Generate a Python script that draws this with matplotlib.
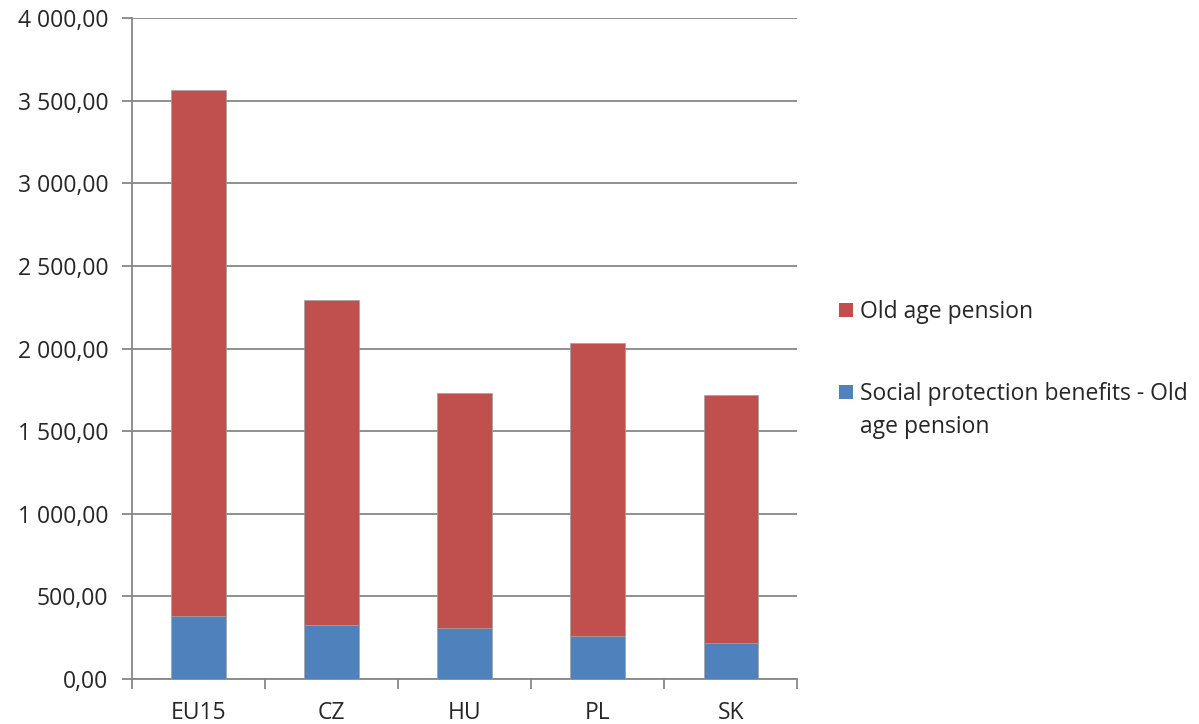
import matplotlib
matplotlib.use("Agg")
import matplotlib.pyplot as plt
from matplotlib.ticker import FuncFormatter, FixedLocator
from matplotlib.patches import Rectangle
import numpy as np

categories = ["EU15", "CZ", "HU", "PL", "SK"]
social_protection = [384, 327, 311, 258, 220]
old_age_pension = [3178, 1965, 1420, 1778, 1497]
legend_labels = ["Old age pension", "Social protection benefits - Old\nage pension"]

plt.rcParams['font.family'] = ['Open Sans', 'DejaVu Sans']

W, H = 1199, 724
fig = plt.figure(figsize=(W / 100, H / 100), dpi=100)
ax = fig.add_axes([0.110, 0.0622, 0.555, 0.9128])

x = np.arange(len(categories))
blue = "#4F81BD"
red = "#C0504D"
w = 0.41
ax.bar(x, social_protection, w, color=blue, edgecolor="#a0a0a0", linewidth=0.5, zorder=3)
ax.bar(x, old_age_pension, w, bottom=social_protection, color=red,
       edgecolor="#a0a0a0", linewidth=0.5, zorder=3)

ax.set_xlim(-0.5, len(categories) - 0.5)
ax.set_ylim(0, 4000)
ax.set_yticks(np.arange(0, 4001, 500))

def fmt(v, pos):
    s = f"{v:,.2f}"
    return s.replace(",", " ").replace(".", ",")
ax.yaxis.set_major_formatter(FuncFormatter(fmt))

ax.grid(axis="y", color="#878787", linewidth=1.3, zorder=0)
for s in ["top", "right"]:
    ax.spines[s].set_visible(False)
for s in ["left", "bottom"]:
    ax.spines[s].set_color("#878787")
    ax.spines[s].set_linewidth(1.3)

fs = 16.5
ax.set_xticks(x)
ax.set_xticklabels(categories)
ax.xaxis.set_minor_locator(FixedLocator(np.arange(-0.5, len(categories), 1.0)))
ax.tick_params(axis="x", which="major", length=0, pad=16, labelsize=fs)
ax.tick_params(axis="x", which="minor", length=7, width=1.3, color="#878787")
ax.tick_params(axis="y", length=7, width=1.3, color="#878787", pad=10, labelsize=fs)
for lab in ax.get_xticklabels() + ax.get_yticklabels():
    lab.set_color("#262626")

# legend drawn manually (figure pixel coordinates converted to fractions)
def fx(px):
    return px / W
def fy(py):
    return 1 - py / H

sq = 14
entries = [(red, 310), (blue, 392)]
for (col, cy), lab in zip(entries, legend_labels):
    fig.patches.append(Rectangle((fx(839), fy(cy + sq / 2)), sq / W, sq / H,
                                 transform=fig.transFigure, facecolor=col,
                                 edgecolor="none"))
    fig.text(fx(860), fy(cy - 10), lab, fontsize=fs, color="#262626",
             ha="left", va="top", linespacing=1.5)

fig.savefig("out.png", dpi=100)
